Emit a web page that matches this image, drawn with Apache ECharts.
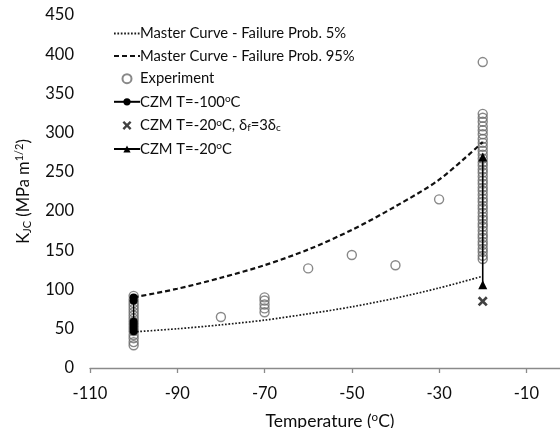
<!DOCTYPE html>
<html>
<head>
<meta charset="utf-8">
<script src="https://cdn.jsdelivr.net/npm/echarts@6/dist/echarts.min.js"></script>
<style>
  html, body { margin: 0; padding: 0; background: #fff; }
  #chart { width: 560px; height: 428px; }
</style>
</head>
<body>
<div id="chart"></div>
<script>
// Master curves (failure probability 5% and 95%)
const curveTemps = [-100, -90, -80, -70, -60, -50, -40, -30, -20];
const curve5 = [46, 50, 55, 61, 69, 78, 89, 102, 117];
const curve95 = [90, 101, 115, 131, 151, 176, 206, 240, 288];

// Fracture toughness experiments, grouped by test temperature
const expTemps = [-100, -80, -70, -60, -50, -40, -30, -20];
const expValues = [
  [29, 33, 38, 42, 47, 51, 55, 59, 63, 67, 71, 75, 79, 83, 87, 92],
  [65],
  [71, 76, 81, 86, 90],
  [127],
  [144],
  [131],
  [215],
  [139, 143, 148, 152, 157, 161, 166, 170, 175, 180, 184, 189, 193, 198, 203,
   207, 212, 216, 221, 226, 230, 235, 239, 244, 249, 253, 258, 262, 267, 272,
   277, 282, 287, 292, 298, 303, 308, 314, 319, 324, 390]
];

// Cohesive zone model results
const czm100Temp = -100;
const czm100Values = [90, 86, 59, 55, 51, 47];
const czm20dTemp = -20;
const czm20dValues = [85];
const czm20Temp = -20;
const czm20Values = [106, 269];

const xTicks = [-110, -90, -70, -50, -30, -10];

const names = {
  p5: 'Master Curve - Failure Prob. 5%',
  p95: 'Master Curve - Failure Prob. 95%',
  exp: 'Experiment',
  c100: 'CZM T=-100°C',
  c20d: 'CZM T=-20°C, δf=3δc',
  c20: 'CZM T=-20°C'
};
const legendRich = {};
legendRich[names.p5] = '{t|Master Curve - Failure Prob. 5%}';
legendRich[names.p95] = '{t|Master Curve - Failure Prob. 95%}';
legendRich[names.exp] = '{t|Experiment}';
legendRich[names.c100] = '{t|CZM T=-100}{sup|o}{t|C}';
legendRich[names.c20d] = '{t|CZM T=-20}{sup|o}{t|C, δ}{sub|f}{t|=3δ}{sub|c}';
legendRich[names.c20] = '{t|CZM T=-20}{sup|o}{t|C}';

const pairs = (xs, ys) => xs.map((x, i) => [x, ys[i]]);
const column = (x, ys) => ys.map(y => [x, y]);

const expData = [];
expTemps.forEach((t, i) => expValues[i].forEach(v => expData.push([t, v])));

const FONT = 'Lato, "Liberation Sans", sans-serif';
const TXT = '#0d0d0d';
const crossPath = 'path://M0,1.9L1.9,0L5,3.1L8.1,0L10,1.9L6.9,5L10,8.1L8.1,10L5,6.9L1.9,10L0,8.1L3.1,5Z';

const chart = echarts.init(document.getElementById('chart'), null, { renderer: 'canvas' });
chart.setOption({
  animation: false,
  backgroundColor: '#fff',
  textStyle: { fontFamily: FONT },
  grid: { left: 90, top: 15, right: -10, bottom: 60, containLabel: false, outerBoundsMode: 'none' },
  legend: {
    orient: 'vertical',
    left: 108,
    top: 21,
    itemWidth: 26,
    itemHeight: 9,
    itemGap: 7.6,
    selectedMode: false,
    data: [names.p5, names.p95, names.exp, names.c100, names.c20d, names.c20],
    formatter: name => legendRich[name],
    textStyle: {
      fontFamily: FONT,
      padding: [0, 0, 0, -5],
      rich: {
        t: { fontSize: 14.8, color: TXT, fontFamily: FONT, lineHeight: 18 },
        sup: { fontSize: 10, color: TXT, fontFamily: FONT, lineHeight: 18, padding: [0, 0, 6, 0] },
        sub: { fontSize: 10, color: TXT, fontFamily: FONT, lineHeight: 18, padding: [5, 0, 0, 0] }
      }
    }
  },
  xAxis: {
    type: 'value',
    min: -110,
    max: 0,
    name: '{t|Temperature (}{sup|o}{t|C)}',
    nameLocation: 'middle',
    nameGap: 43,
    nameTextStyle: {
      rich: {
        t: { fontSize: 17.5, color: TXT, fontFamily: FONT },
        sup: { fontSize: 11.5, color: TXT, fontFamily: FONT, padding: [0, 0, 8, 0] }
      }
    },
    axisLine: { lineStyle: { color: '#8a8a8a', width: 1.3 } },
    axisTick: { show: true, length: 5, lineStyle: { color: '#8a8a8a', width: 1.3 }, customValues: xTicks },
    axisLabel: { fontSize: 16.5, color: TXT, margin: 17, customValues: xTicks, fontFamily: FONT },
    splitLine: { show: false }
  },
  yAxis: {
    type: 'value',
    min: 0,
    max: 450,
    interval: 50,
    name: '{t|K}{sub|JC}{t| (MPa m}{sup|1/2}{t|)}',
    nameLocation: 'middle',
    nameGap: 57,
    nameTextStyle: {
      rich: {
        t: { fontSize: 16.5, color: TXT, fontFamily: FONT },
        sub: { fontSize: 11, color: TXT, fontFamily: FONT, padding: [7, 0, 0, 0] },
        sup: { fontSize: 11, color: TXT, fontFamily: FONT, padding: [0, 0, 8, 0] }
      }
    },
    axisLine: { show: true, lineStyle: { color: '#8a8a8a', width: 1.3 } },
    axisTick: { show: true, length: 5, lineStyle: { color: '#8a8a8a', width: 1.3 } },
    axisLabel: { fontSize: 16.5, color: TXT, margin: 16, fontFamily: FONT },
    splitLine: { show: false }
  },
  series: [
    {
      name: names.p5,
      type: 'line',
      data: pairs(curveTemps, curve5),
      symbol: 'none',
      smooth: 0.3,
      z: 3,
      lineStyle: { color: '#1a1a1a', width: 1.7, type: [1.7, 1.7] },
      itemStyle: { color: '#1a1a1a', opacity: 0 }
    },
    {
      name: names.p95,
      type: 'line',
      data: pairs(curveTemps, curve95),
      symbol: 'none',
      smooth: 0.3,
      z: 3,
      lineStyle: { color: '#111', width: 2.2, type: [5, 3] },
      itemStyle: { color: '#111', opacity: 0 }
    },
    {
      name: names.exp,
      type: 'scatter',
      data: expData,
      symbol: 'circle',
      symbolSize: 9,
      z: 2,
      itemStyle: { color: 'rgba(255,255,255,0)', borderColor: '#6a6a6a', borderWidth: 1.4 }
    },
    {
      name: names.c100,
      type: 'line',
      data: column(czm100Temp, czm100Values),
      symbol: 'circle',
      symbolSize: 8,
      z: 4,
      lineStyle: { color: '#000', width: 1.4 },
      itemStyle: { color: '#000' }
    },
    {
      name: names.c20d,
      type: 'scatter',
      data: column(czm20dTemp, czm20dValues),
      symbol: crossPath,
      symbolSize: 10,
      z: 4,
      itemStyle: { color: '#111' }
    },
    {
      name: names.c20,
      type: 'line',
      data: column(czm20Temp, czm20Values),
      symbol: 'triangle',
      symbolSize: 9,
      z: 4,
      lineStyle: { color: '#000', width: 1.6 },
      itemStyle: { color: '#000' }
    }
  ]
});
</script>
</body>
</html>
